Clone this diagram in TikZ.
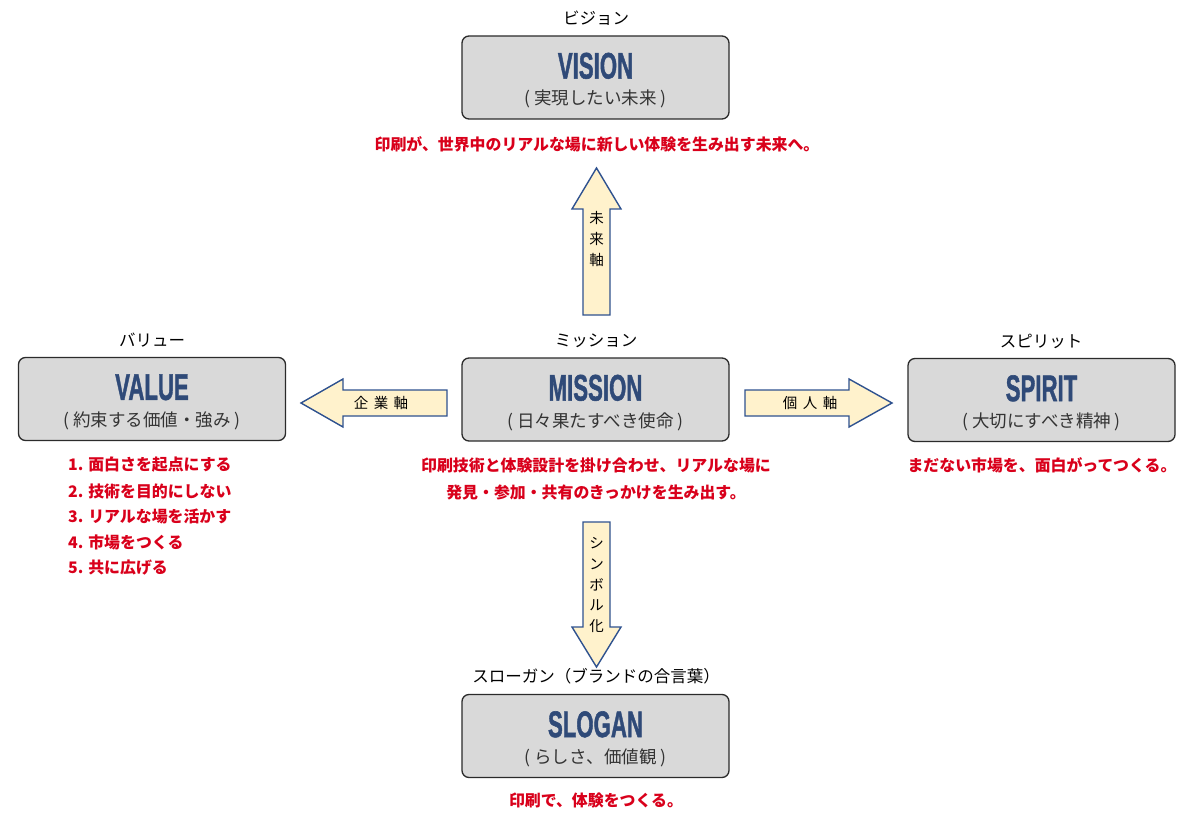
\documentclass[tikz,border=0pt]{standalone}
\usepackage{fontspec}
\usepackage{graphicx}
\usetikzlibrary{calc}
\setmainfont{Noto Sans CJK JP}
\newfontfamily\ttlfont{Liberation Sans}[BoldFeatures={FakeBold=1.6}]
\definecolor{boxfill}{HTML}{D9D9D9}
\definecolor{boxline}{HTML}{2B2B2B}
\definecolor{ttlblue}{HTML}{2F4A78}
\definecolor{subgray}{HTML}{333333}
\definecolor{redtxt}{HTML}{D9001B}
\definecolor{arrfill}{HTML}{FFF2CC}
\definecolor{arrline}{HTML}{2F528F}
\newcommand{\ttl}[1]{\scalebox{0.6}[1]{\ttlfont\bfseries #1}}
\begin{document}
\begin{tikzpicture}[x=1pt,y=-1pt,
  box/.style={draw=boxline,line width=1.3pt,fill=boxfill,rounded corners=7pt,minimum width=267pt,minimum height=83pt,inner sep=0pt},
  ttltext/.style={text=ttlblue,font=\fontsize{37}{37}\selectfont,inner sep=0pt},
  subtext/.style={text=subgray,font=\fontsize{17.5}{20}\selectfont,inner sep=0pt},
  toplabel/.style={text=black,font=\fontsize{16.5}{18}\selectfont,inner sep=0pt},
  redtext/.style={text=redtxt,font=\fontsize{15.9}{17}\selectfont\bfseries,inner sep=0pt},
  blockarrow/.style={draw=arrline,line width=1.4pt,fill=arrfill,line join=miter},
  arrtext/.style={text=black,font=\fontsize{14.5}{20.8}\selectfont,inner sep=0pt,align=center}
]
\useasboundingbox (0,0) rectangle (1190,826);
\fill[white] (0,0) rectangle (1190,826);

% boxes
\node[box] (vision)  at (595.5,77.5) {};
\node[box] (mission) at (595.5,399.5) {};
\node[box] (value)   at (152,399) {};
\node[box] (spirit)  at (1041.5,400) {};
\node[box] (slogan)  at (595.5,736) {};

% titles and subtitles
\node[ttltext] (visionT)  at ($(vision.north)+(0,30.5)$) {\ttl{VISION}};
\node[subtext] (visionS)  at ($(vision.north)+(0,64)$) {( 実現したい未来 )};
\node[ttltext] (missionT) at ($(mission.north)+(0,30.5)$) {\ttl{MISSION}};
\node[subtext] (missionS) at ($(mission.north)+(0,64)$) {( 日々果たすべき使命 )};
\node[ttltext] (valueT)   at ($(value.north)+(0,30.5)$) {\ttl{VALUE}};
\node[subtext] (valueS)   at ($(value.north)+(0,64)$) {( 約束する価値・強み )};
\node[ttltext] (spiritT)  at ($(spirit.north)+(0,30.5)$) {\ttl{SPIRIT}};
\node[subtext] (spiritS)  at ($(spirit.north)+(0,64)$) {( 大切にすべき精神 )};
\node[ttltext] (sloganT)  at ($(slogan.north)+(0,30.5)$) {\ttl{SLOGAN}};
\node[subtext] (sloganS)  at ($(slogan.north)+(0,64)$) {( らしさ、価値観 )};

% labels above boxes
\node[toplabel] (visionL)  at (596,18) {ビジョン};
\node[toplabel] (missionL) at (596,341) {ミッション};
\node[toplabel] (valueL)   at (152,340) {バリュー};
\node[toplabel] (spiritL)  at (1041,341) {スピリット};
\node[toplabel] (sloganL)  at (596,676) {スローガン（ブランドの合言葉）};

% red texts
\node[redtext] (visionR) at (597,144) {印刷が、世界中のリアルな場に新しい体験を生み出す未来へ。};
\node[redtext] (missionR1) at (596,465) {印刷技術と体験設計を掛け合わせ、リアルな場に};
\node[redtext] (missionR2) at (596,492) {発見・参加・共有のきっかけを生み出す。};
\node[redtext] (spiritR) at (1042,465) {まだない市場を、面白がってつくる。};
\node[redtext] (sloganR) at (596,800) {印刷で、体験をつくる。};
\node[redtext,anchor=west] (v1) at (68,465) {1. 面白さを起点にする};
\node[redtext,anchor=west] (v2) at (68,491) {2. 技術を目的にしない};
\node[redtext,anchor=west] (v3) at (68,516) {3. リアルな場を活かす};
\node[redtext,anchor=west] (v4) at (68,542) {4. 市場をつくる};
\node[redtext,anchor=west] (v5) at (68,568) {5. 共に広げる};

% block arrows
\draw[blockarrow] (583,315) -- (583,209) -- (572,209) -- (596.5,168) -- (621,209) -- (610,209) -- (610,315) -- cycle;
\node[arrtext] (futureL) at (596.5,239) {未\\来\\軸};

\draw[blockarrow] (583,522) -- (583,627) -- (572,627) -- (596.5,667) -- (621,627) -- (610,627) -- (610,522) -- cycle;
\node[arrtext] (symbolL) at (596.5,585) {シ\\ン\\ボ\\ル\\化};

\draw[blockarrow] (447,390) -- (343,390) -- (343,379) -- (301,403) -- (343,427) -- (343,416) -- (447,416) -- cycle;
\node[arrtext] (corpL) at (381,403) {企\hspace{5.5pt}業\hspace{5.5pt}軸};

\draw[blockarrow] (745,390) -- (849,390) -- (849,379) -- (892,403) -- (849,427) -- (849,416) -- (745,416) -- cycle;
\node[arrtext] (persL) at (810,403) {個\hspace{5.5pt}人\hspace{5.5pt}軸};
\end{tikzpicture}
\end{document}
